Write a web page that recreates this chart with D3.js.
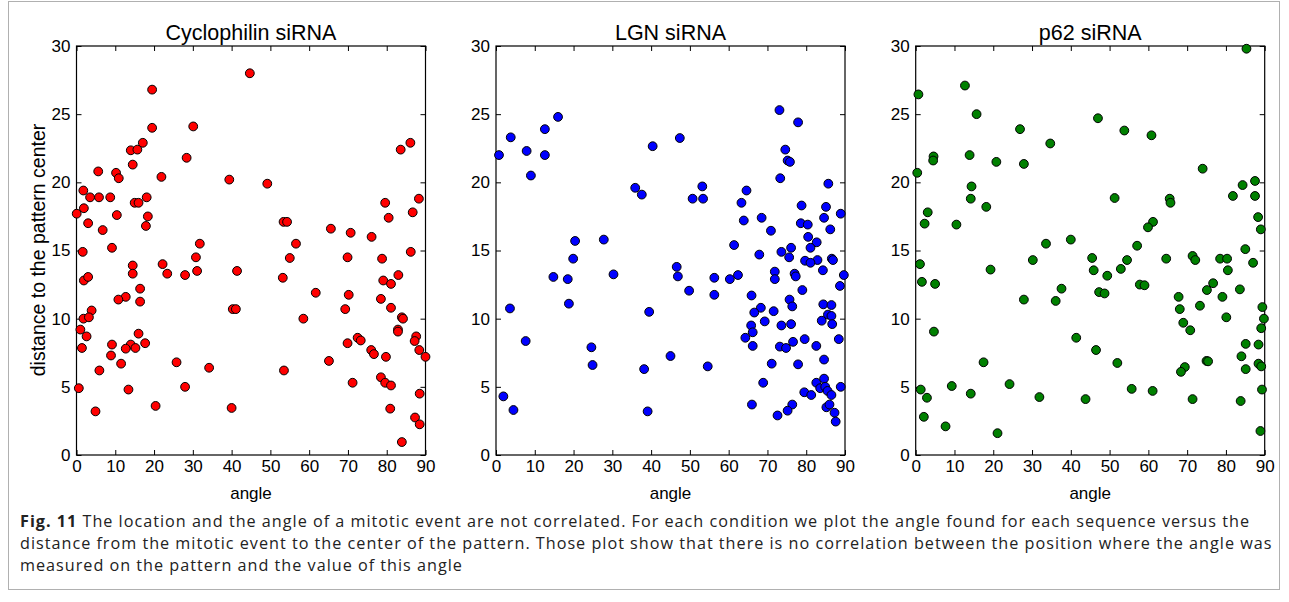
<!DOCTYPE html>
<html><head><meta charset="utf-8">
<script src="https://cdn.jsdelivr.net/npm/d3@7"></script>
<style>
body{margin:0;background:#fff;}
svg{display:block;}
</style></head>
<body>
<svg id="c" width="1289" height="602"></svg>
<script>
const titles = ["Cyclophilin siRNA", "LGN siRNA", "p62 siRNA"];
const colors = ["#ff0000", "#0000ff", "#008000"];
const xTicks = [0,10,20,30,40,50,60,70,80,90];
const yTicks = [0,5,10,15,20,25,30];
const xLabel = "angle";
const yLabel = "distance to the pattern center";
const captionBold = "Fig. 11";
const captionLines = [
 " The location and the angle of a mitotic event are not correlated. For each condition we plot the angle found for each sequence versus the",
 "distance from the mitotic event to the center of the pattern. Those plot show that there is no correlation between the position where the angle was",
 "measured on the pattern and the value of this angle"
];

// [angle, distance]
const cyclophilin = [
[44.7,28.0],[19.5,26.8],[19.5,24.0],[30.1,24.1],[17.1,22.9],[14.0,22.35],[15.7,22.4],[28.4,21.8],[14.5,21.3],
[5.6,20.8],[10.2,20.7],[10.9,20.3],[21.9,20.4],[39.4,20.2],[1.76,19.4],[3.5,18.9],[5.8,18.9],[8.7,18.9],[18.1,18.9],
[15.0,18.5],[16.0,18.5],[1.9,18.1],[0.05,17.7],[10.4,17.6],[18.4,17.5],[3.0,17.0],[17.9,16.8],[6.75,16.5],[1.6,14.9],
[9.15,15.2],[31.8,15.5],[30.8,14.5],
[49.2,19.9],[83.6,22.4],[86.1,22.9],[79.6,18.5],[88.3,18.8],[80.5,17.4],[86.7,17.8],[53.4,17.1],[54.3,17.1],[65.6,16.6],
[70.7,16.3],[76.1,16.0],[56.6,15.5],[86.2,14.9],[55.0,14.45],[69.9,14.5],[78.8,14.4],
[1.9,12.8],[3.0,13.06],[14.5,13.9],[14.5,13.3],[22.2,14.0],[23.4,13.3],[28.0,13.2],[31.1,13.5],[41.4,13.5],[16.4,12.2],
[16.4,11.25],[12.7,11.6],[10.8,11.4],[3.9,10.6],[1.8,10.0],[3.2,10.1],[40.3,10.7],[41.1,10.7],[1.0,9.2],[2.6,8.7],
[16.0,8.9],[1.4,7.85],[9.15,8.1],[14.0,8.1],[12.7,7.8],[15.2,7.85],[17.7,8.2],[8.9,7.3],[11.5,6.7],[25.8,6.8],[34.2,6.4],
[5.9,6.2],[0.6,4.9],[13.4,4.8],[28.0,5.0],[20.4,3.6],[40.0,3.45],[4.9,3.2],
[53.2,13.0],[79.1,12.8],[81.1,12.55],[83.0,13.2],[61.7,11.9],[70.2,11.75],[78.5,11.45],[81.1,10.8],[69.3,10.7],[58.5,10.0],
[83.9,10.1],[84.2,10.0],[82.9,9.2],[82.9,9.05],[87.6,8.7],[87.2,8.36],[88.4,7.7],[90.0,7.2],[72.5,8.6],[73.3,8.4],[69.9,8.2],
[76.0,7.7],[76.7,7.4],[79.8,7.2],[65.1,6.9],[53.5,6.2],[78.5,5.7],[79.6,5.3],[81.1,5.1],[71.2,5.3],[88.5,4.5],[80.9,3.4],
[87.3,2.75],[88.5,2.25],[83.9,0.95]
];
const lgn = [
[0.77,22.0],[3.8,23.3],[7.9,22.3],[9.0,20.5],[12.6,23.9],[12.6,22.0],[16.0,24.8],[40.4,22.65],[35.9,19.6],[37.6,19.1],
[20.4,15.7],[27.8,15.8],[19.9,14.4],
[47.4,23.25],[73.1,25.3],[77.9,24.4],[74.6,22.4],[75.2,21.6],[75.8,21.5],[73.3,20.3],[85.7,19.9],[53.2,19.7],[50.7,18.8],
[53.4,18.8],[64.6,19.4],[63.3,18.5],[78.8,18.3],[85.1,18.2],[88.9,17.7],[84.6,17.4],[63.9,17.2],[68.5,17.4],[78.6,17.0],
[80.4,16.9],[70.9,16.45],[86.2,16.55],[80.5,16.0],[82.7,15.6],[81.1,15.2],[61.4,15.4],[73.6,14.9],[76.1,15.2],[67.9,14.7],
[75.6,14.5],[79.7,14.25],[82.9,14.3],[86.6,14.4],[81.1,14.1],[86.9,14.3],
[14.8,13.06],[18.5,12.9],[30.3,13.25],[18.8,11.1],[3.6,10.75],[39.5,10.5],[7.65,8.36],[24.6,7.9],[24.9,6.6],[38.2,6.3],
[1.9,4.3],[4.5,3.3],[39.1,3.2],
[46.6,13.8],[46.9,13.1],[56.3,13.0],[60.3,12.9],[62.4,13.2],[49.8,12.05],[56.3,11.75],[71.9,13.45],[71.9,12.9],[77.0,13.3],
[77.3,13.1],[84.3,13.55],[89.7,13.2],[88.7,12.4],[79.0,12.1],[65.9,11.7],[75.7,11.4],[76.4,10.9],[68.3,10.8],[66.6,10.45],
[71.6,10.55],[84.4,11.05],[86.5,11.0],[85.6,10.3],[86.5,10.2],[84.0,9.85],[86.7,9.6],[76.1,9.6],[73.6,9.5],[69.3,9.8],
[65.8,9.5],[66.2,9.0],[64.3,8.6],[66.2,8.0],[73.2,7.95],[74.8,7.85],[76.6,8.3],[79.6,8.5],[82.6,8.0],[88.4,8.5],[84.6,7.0],
[77.9,6.65],[71.1,6.7],[54.6,6.5],[45.0,7.26],[68.9,5.3],[82.6,5.3],[83.6,4.9],[84.6,5.6],[84.9,5.0],[85.5,4.7],[86.5,4.4],
[88.9,5.0],[79.5,4.6],[81.3,4.4],[66.0,3.7],[76.4,3.7],[75.2,3.25],[72.6,2.9],[85.2,3.5],[86.0,3.7],[87.3,3.1],[87.6,2.45]
];
const p62 = [
[0.7,26.45],[0.4,20.7],[4.6,21.9],[4.5,21.6],[3.1,17.8],[2.3,16.97],[10.5,16.9],[12.7,27.1],[15.7,25.0],[13.9,22.0],
[14.4,19.7],[14.2,18.8],[18.2,18.2],[20.8,21.5],[26.9,23.9],[27.9,21.35],[34.7,22.85],[33.6,15.5],[40.0,15.8],[30.2,14.3],
[85.3,29.8],[47.0,24.7],[53.8,23.8],[60.8,23.45],[74.0,21.0],[87.5,20.1],[84.3,19.8],[81.8,19.0],[87.5,19.0],[51.3,18.85],
[65.5,18.8],[65.7,18.5],[88.3,17.45],[89.0,16.55],[61.2,17.1],[59.9,16.7],[57.1,15.35],[85.0,15.1],[45.5,14.45],[54.5,14.3],
[64.6,14.4],[71.4,14.6],[72.1,14.3],[78.5,14.4],[80.3,14.4],
[1.1,14.0],[1.6,12.7],[5.0,12.55],[4.7,9.05],[19.3,13.6],[27.9,11.4],[36.1,11.3],[37.6,12.2],[41.4,8.6],[17.5,6.8],
[1.3,4.8],[2.9,4.2],[9.3,5.06],[14.2,4.5],[24.2,5.2],[31.9,4.25],[2.1,2.8],[7.7,2.1],[21.1,1.6],
[45.9,13.55],[52.9,13.65],[49.4,13.15],[47.3,11.95],[48.7,11.85],[57.8,12.5],[59.0,12.45],[80.5,13.55],[87.0,14.1],[76.7,12.6],
[75.1,12.1],[83.6,12.15],[79.1,11.6],[67.8,11.6],[68.1,10.7],[73.3,10.95],[80.1,10.1],[69.0,9.7],[70.8,9.15],[89.4,10.85],
[89.8,10.0],[89.1,9.3],[46.5,7.7],[52.0,6.75],[85.1,8.15],[88.4,8.1],[84.0,7.24],[75.0,6.9],[75.4,6.87],[69.4,6.45],
[68.4,6.1],[85.1,6.3],[88.4,6.7],[89.1,6.5],[55.7,4.85],[61.1,4.7],[43.8,4.1],[71.4,4.1],[83.8,3.96],[89.3,4.8],[88.9,1.76]
];
const datasets = [cyclophilin, lgn, p62];

const svg = d3.select("#c");
const font = "'Liberation Sans', Arial, sans-serif";

// figure frame
svg.append("rect").attr("x",8.5).attr("y",1.5).attr("width",1271).attr("height",588)
  .attr("fill","none").attr("stroke","#b0b0b0").attr("stroke-width",1);

const lefts = [76.5, 496, 915.7];
const pw = 349, plotTop = 46, plotBottom = 455;

datasets.forEach((data, i) => {
  const x = d3.scaleLinear().domain([0,90]).range([lefts[i], lefts[i]+pw]);
  const y = d3.scaleLinear().domain([0,30]).range([plotBottom, plotTop]);
  const g = svg.append("g");

  const axB = d3.axisBottom(x).tickValues(xTicks).tickSize(-5).tickPadding(5).tickFormat(d3.format("d"));
  const axT = d3.axisTop(x).tickValues(xTicks).tickSize(-5).tickFormat("");
  const axL = d3.axisLeft(y).tickValues(yTicks).tickSize(-5).tickPadding(6).tickFormat(d3.format("d"));
  const axR = d3.axisRight(y).tickValues(yTicks).tickSize(-5).tickFormat("");
  [[axB,`translate(0,${plotBottom})`],[axT,`translate(0,${plotTop})`],[axL,`translate(${lefts[i]},0)`],[axR,`translate(${lefts[i]+pw},0)`]].forEach(([ax,tr])=>{
    const a = g.append("g").attr("transform",tr).call(ax);
    a.select(".domain").remove();
    a.selectAll("line").attr("stroke","#000").attr("stroke-width",1);
    a.selectAll("text").attr("font-family",font).attr("font-size",17).attr("fill","#000");
  });
  g.append("rect").attr("x",lefts[i]).attr("y",plotTop).attr("width",pw).attr("height",plotBottom-plotTop)
    .attr("fill","none").attr("stroke","#000").attr("stroke-width",1.2);

  g.append("g").selectAll("circle").data(data).join("circle")
    .attr("cx", d=>x(d[0])).attr("cy", d=>y(d[1])).attr("r",4.4)
    .attr("fill", colors[i]).attr("stroke","#000").attr("stroke-width",1);

  g.append("text").attr("x", lefts[i]+pw/2).attr("y", 40).attr("text-anchor","middle")
    .attr("font-family",font).attr("font-size",21.5).text(titles[i]);
  g.append("text").attr("x", lefts[i]+pw/2).attr("y", 499).attr("text-anchor","middle")
    .attr("font-family",font).attr("font-size",17).text(xLabel);
});

svg.append("text").attr("transform","translate(45,250) rotate(-90)").attr("text-anchor","middle")
  .attr("font-family",font).attr("font-size",19.5).text(yLabel);

const cap = svg.append("g").attr("font-family","'Open Sans', 'Noto Sans', sans-serif").attr("font-size",16.2).attr("fill","#222");
const capTexts = captionLines.map((ln, k) => {
  const t = cap.append("text").attr("x",20).attr("y",527 + k*22);
  if (k===0) t.append("tspan").attr("font-weight","bold").text(captionBold);
  t.append("tspan").text(ln);
  return t;
});
// stretch letter spacing so the first line reaches the right edge of the caption block
const w0 = capTexts[0].node().getComputedTextLength();
const nChars = (captionBold + captionLines[0]).length;
const ls = Math.max(0, (1230 - w0) / nChars);
capTexts.forEach(t => t.attr("letter-spacing", ls));
</script>
</body></html>
